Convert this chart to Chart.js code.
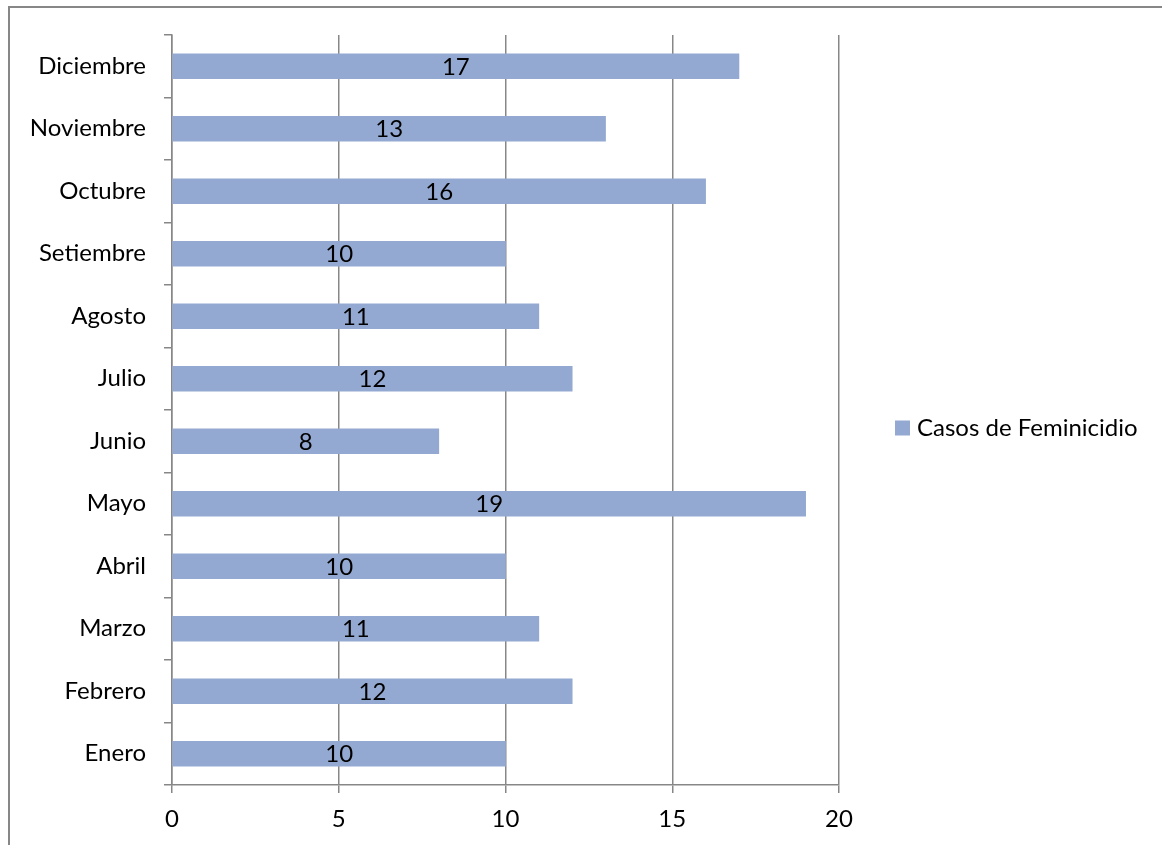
<!DOCTYPE html>
<html><head><meta charset="utf-8">
<script src="https://cdn.jsdelivr.net/npm/chart.js@4/dist/chart.umd.min.js"></script>
<style>html,body{margin:0;padding:0;background:#fff}#wrap{width:1162px;height:845px;position:relative}</style>
</head><body><div id="wrap"><canvas id="c" width="1162" height="845"></canvas></div>
<script>
const categories = ["Enero","Febrero","Marzo","Abril","Mayo","Junio","Julio","Agosto","Setiembre","Octubre","Noviembre","Diciembre"];
const casos = [10,12,11,10,19,8,12,11,10,16,13,17];
const seriesName = "Casos de Feminicidio";
const xTicks = [0,5,10,15,20];

const FONT = "Lato, 'Open Sans', sans-serif";
const FS = 24;
const BAR = "#94a9d1";
const GRID = "#878787";

const framePlugin = {
  id: 'frame',
  beforeDraw(chart){
    const ctx = chart.ctx;
    ctx.save();
    ctx.fillStyle = '#fff';
    ctx.fillRect(0,0,chart.width,chart.height);
    ctx.strokeStyle = GRID; ctx.lineWidth = 2;
    ctx.strokeRect(9, 7, chart.width + 10, chart.height + 10);
    ctx.restore();
  },
  afterDraw(chart){
    const ctx = chart.ctx;
    const meta = chart.getDatasetMeta(0);
    ctx.save();
    ctx.font = FS + "px " + FONT;
    ctx.fillStyle = '#000';
    ctx.textAlign = 'center'; ctx.textBaseline = 'middle';
    meta.data.forEach((el,i)=>{
      const p = el.getProps(['x','y','base'], true);
      ctx.fillText(String(chart.data.datasets[0].data[i]), (p.x + p.base)/2, p.y + 1);
    });
    const cy = (chart.chartArea.top + chart.chartArea.bottom)/2 + 18;
    ctx.fillStyle = BAR;
    ctx.fillRect(895, cy - 7.5, 15, 15);
    ctx.fillStyle = '#000';
    ctx.textAlign = 'left';
    ctx.fillText(seriesName, 917, cy);
    ctx.restore();
  }
};

new Chart(document.getElementById('c'), {
  type: 'bar',
  data: { labels: categories, datasets: [{ label: seriesName, data: casos, backgroundColor: BAR, barThickness: 25 }] },
  options: {
    indexAxis: 'y',
    responsive: false,
    animation: false,
    layout: { padding: { left: 0, top: 35, right: 323, bottom: 0 } },
    plugins: { legend: { display: false }, tooltip: { enabled: false } },
    scales: {
      x: {
        min: 0, max: 20,
        afterBuildTicks(s){ s.ticks = xTicks.map(v=>({value:v})); },
        afterFit(s){ s.height = 60; },
        grid: { color: GRID, lineWidth: 1.5, tickLength: 8, drawTicks: true },
        border: { color: GRID, width: 1.5 },
        ticks: { font: { family: FONT, size: FS }, color: '#000', padding: 12 }
      },
      y: {
        reverse: true,
        afterFit(s){ s.width = 172; },
        grid: { drawOnChartArea: false, color: GRID, lineWidth: 1.5, tickLength: 8, offset: true },
        border: { color: GRID, width: 1.5 },
        ticks: { font: { family: FONT, size: FS }, color: '#000', padding: 18 }
      }
    }
  },
  plugins: [framePlugin]
});
</script></body></html>
